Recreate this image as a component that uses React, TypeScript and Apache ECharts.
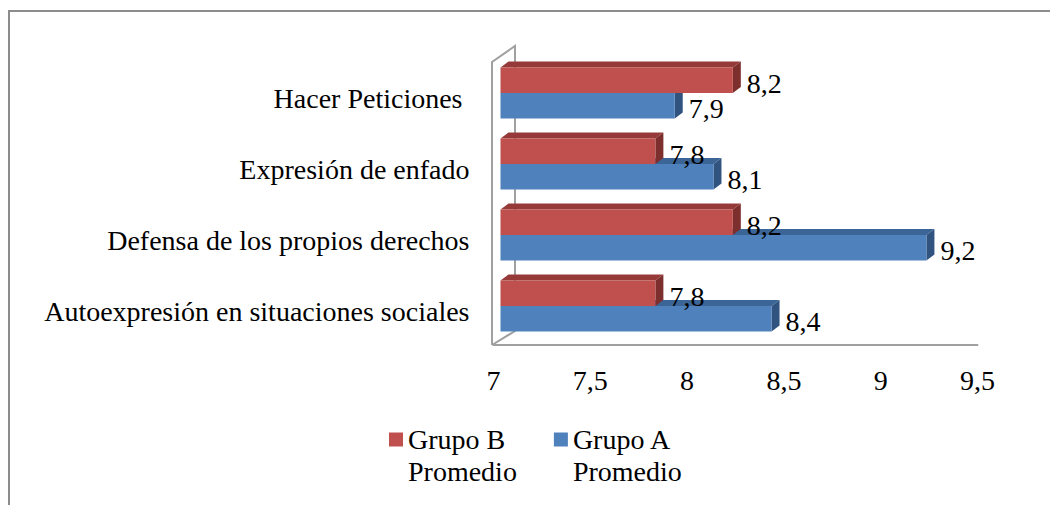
import React, { useEffect, useRef } from "react";
import * as echarts from "echarts";

const categories = [
  "Autoexpresión en situaciones sociales",
  "Defensa de los propios derechos",
  "Expresión de enfado",
  "Hacer Peticiones ",
];
const grupoA = [8.4, 9.2, 8.1, 7.9];
const grupoB = [7.8, 8.2, 7.8, 8.2];
const seriesNames = ["Grupo B Promedio", "Grupo A Promedio"];
const xTicks = { min: 7, max: 9.5, interval: 0.5 };

const FONT = "Liberation Serif";
const SHIFT = 7;
const DX = 8;
const DY = -6;

const fmt = (v: number) => String(v).replace(".", ",");

function makeRender(isTop: boolean, front: string, top: string, side: string) {
  return (params: any, api: any) => {
    const v = api.value(0);
    const ci = api.value(1);
    const p0 = api.coord([xTicks.min, ci]);
    const p1 = api.coord([v, ci]);
    const band = api.size([0, 1])[1];
    const h = band * 0.36;
    const x0 = p0[0] + SHIFT;
    const x1 = p1[0] + SHIFT;
    const y0 = isTop ? p0[1] - h : p0[1];
    const y1 = y0 + h;
    return {
      type: "group",
      children: [
        {
          type: "polygon",
          shape: { points: [[x0, y0], [x0 + DX, y0 + DY], [x1 + DX, y0 + DY], [x1, y0]] },
          style: { fill: top },
        },
        {
          type: "polygon",
          shape: { points: [[x1, y0], [x1 + DX, y0 + DY], [x1 + DX, y1 + DY], [x1, y1]] },
          style: { fill: side },
        },
        {
          type: "rect",
          shape: { x: x0, y: y0, width: x1 - x0, height: h },
          style: { fill: front },
        },
        {
          type: "text",
          x: x1 + DX + 6,
          y: (y0 + y1) / 2 + 3,
          style: {
            text: fmt(v),
            fill: "#000",
            fontSize: 28,
            fontFamily: FONT,
            align: "left",
            verticalAlign: "middle",
          },
        },
      ],
    };
  };
}

export default function App() {
  const ref = useRef<HTMLDivElement>(null);
  useEffect(() => {
    if (!ref.current) return;
    const chart = echarts.init(ref.current, undefined, { renderer: "svg" });
    chart.setOption({
      animation: false,
      backgroundColor: "#fff",
      textStyle: { fontFamily: FONT },
      grid: { left: 493.5, right: 72.5, top: 57.5, bottom: 163.5, containLabel: false },
      xAxis: {
        type: "value",
        min: xTicks.min,
        max: xTicks.max,
        interval: xTicks.interval,
        offset: 3.5,
        axisLine: { show: true, lineStyle: { color: "#a0a0a0", width: 2 } },
        axisTick: { show: false },
        splitLine: { show: false },
        axisLabel: {
          margin: 21,
          fontSize: 28,
          fontFamily: FONT,
          color: "#000",
          formatter: (v: number) => fmt(v),
        },
      },
      yAxis: {
        type: "category",
        data: categories,
        axisLine: { show: false },
        axisTick: { show: false },
        axisLabel: {
          margin: 24,
          fontSize: 28,
          fontFamily: FONT,
          color: "#000",
          verticalAlign: "top",
          lineHeight: 10,
        },
      },
      legend: {
        data: ["Grupo B Promedio", "Grupo A Promedio"],
        left: 389,
        top: 391.5,
        padding: 0,
        icon: "rect",
        itemWidth: 14,
        itemHeight: 14,
        itemGap: 37,
        itemTextGap: 8,
        selectedMode: false,
        formatter: (name: string) => "\n" + name.replace(" Promedio", "\nPromedio"),
        textStyle: {
          fontSize: 28,
          fontFamily: FONT,
          color: "#000",
          lineHeight: 32,
        },
      },
      graphic: [
        {
          type: "rect",
          shape: { x: 9, y: 11, width: 1200, height: 700 },
          style: { fill: "none", stroke: "#8c8c8c", lineWidth: 2 },
          silent: true,
        },
        {
          type: "polyline",
          shape: { points: [[492, 345], [492, 62], [515, 46], [515, 331], [492, 345]] },
          style: { fill: "none", stroke: "#a0a0a0", lineWidth: 2 },
          silent: true,
        },
      ],
      series: [
        {
          name: seriesNames[1],
          type: "custom",
          itemStyle: { color: "#4F81BD" },
          encode: { x: 0, y: 1 },
          data: grupoA.map((v, i) => [v, i]),
          renderItem: makeRender(false, "#4F81BD", "#3C6597", "#30537F"),
        },
        {
          name: seriesNames[0],
          type: "custom",
          itemStyle: { color: "#C0504D" },
          encode: { x: 0, y: 1 },
          data: grupoB.map((v, i) => [v, i]),
          renderItem: makeRender(true, "#C0504D", "#953A38", "#7D2F2D"),
        },
      ],
    });
    return () => chart.dispose();
  }, []);
  return (
    <div
      ref={ref}
      style={{ position: "absolute", left: 0, top: 0, width: 1050, height: 505 }}
    />
  );
}
